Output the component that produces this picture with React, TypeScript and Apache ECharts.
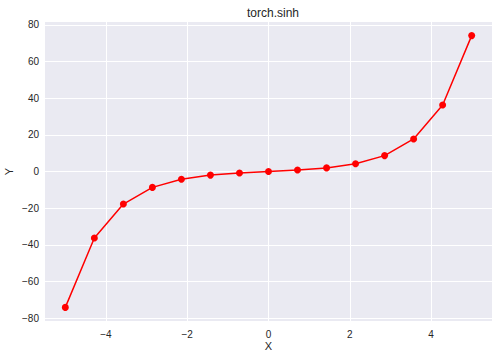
import React, { useEffect, useRef } from "react";
import * as echarts from "echarts";

const xValues = [-5, -4.2857, -3.5714, -2.8571, -2.1429, -1.4286, -0.7143, 0, 0.7143, 1.4286, 2.1429, 2.8571, 3.5714, 4.2857, 5];
const yValues = [-74.2032, -36.3462, -17.7664, -8.6773, -4.2094, -1.9713, -0.7757, 0, 0.7757, 1.9713, 4.2094, 8.6773, 17.7664, 36.3462, 74.2032];
const xTicks = [-4, -2, 0, 2, 4];
const yTicks = [-80, -60, -40, -20, 0, 20, 40, 60, 80];

const FONT = "'Liberation Sans', Arial, sans-serif";
const TEXT = "#262626";

export default function App() {
  const ref = useRef<HTMLDivElement>(null);
  useEffect(() => {
    document.body.style.margin = "0";
    if (!ref.current) return;
    const chart = echarts.init(ref.current, undefined, { renderer: "svg" });
    chart.setOption({
      animation: false,
      backgroundColor: "#ffffff",
      title: {
        text: "torch.sinh",
        left: 268,
        top: 2,
        textAlign: "center",
        textStyle: { fontFamily: FONT, fontSize: 12, fontWeight: "normal", color: TEXT },
      },
      grid: {
        left: 45,
        right: 6,
        top: 22,
        bottom: 38,
        containLabel: false,
        outerBoundsMode: "none",
        show: true,
        backgroundColor: "#EAEAF2",
        borderWidth: 0,
      },
      xAxis: {
        type: "value",
        min: -5.5,
        max: 5.5,
        name: "X",
        nameLocation: "middle",
        nameGap: 19,
        nameMoveOverlap: false,
        nameTextStyle: { fontFamily: FONT, fontSize: 11, color: TEXT },
        axisLine: { show: false },
        axisTick: { show: false, customValues: xTicks },
        axisLabel: {
          customValues: xTicks,
          fontFamily: FONT,
          fontSize: 10,
          color: TEXT,
          margin: 8,
          formatter: (v: number) => String(v).replace("-", "\u2212"),
        },
        splitLine: { show: true, lineStyle: { color: "#ffffff", width: 1 } },
      },
      yAxis: {
        type: "value",
        min: -81.63,
        max: 81.63,
        name: "Y",
        nameLocation: "middle",
        nameGap: 31,
        nameMoveOverlap: false,
        nameTextStyle: { fontFamily: FONT, fontSize: 11, color: TEXT },
        axisLine: { show: false },
        axisTick: { show: false, customValues: yTicks },
        axisLabel: {
          customValues: yTicks,
          fontFamily: FONT,
          fontSize: 10,
          color: TEXT,
          margin: 6,
          formatter: (v: number) => String(v).replace("-", "\u2212"),
        },
        splitLine: { show: true, lineStyle: { color: "#ffffff", width: 1 } },
      },
      series: [
        {
          type: "line",
          data: xValues.map((x, i) => [x, yValues[i]]),
          symbol: "circle",
          symbolSize: 7,
          itemStyle: { color: "#ff0000" },
          lineStyle: { color: "#ff0000", width: 1.5 },
        },
      ],
    });
    return () => chart.dispose();
  }, []);
  return <div ref={ref} style={{ width: 498, height: 359 }} />;
}
